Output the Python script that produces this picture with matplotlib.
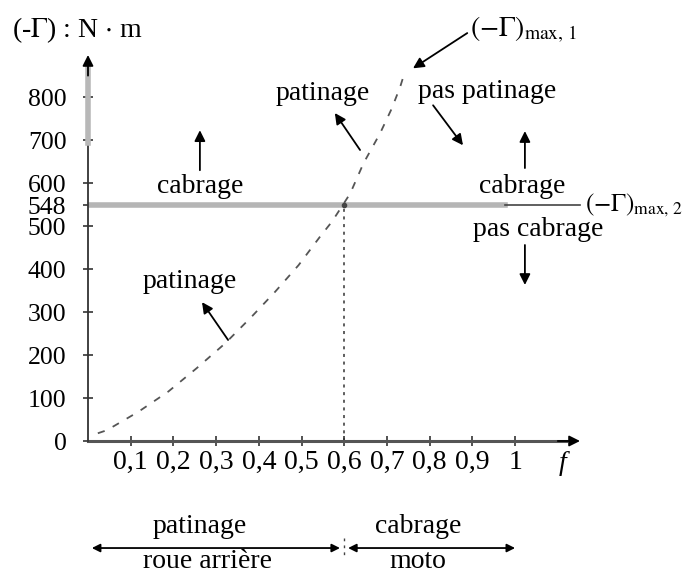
import matplotlib
matplotlib.use("Agg")
import matplotlib.pyplot as plt
import numpy as np

# Courbe (-Gamma)max,1 en fonction de f
f_courbe = [0.023, 0.044, 0.118, 0.188, 0.254, 0.321, 0.383, 0.438, 0.493,
            0.543, 0.571, 0.594, 0.614, 0.645, 0.684, 0.711, 0.731, 0.742]
gamma_courbe = [18, 25, 68, 115, 169, 227, 289, 347, 409,
                475, 510, 545, 576, 646, 716, 773, 824, 859]

# Limite de cabrage et point critique
gamma_max2 = 548
f_crit = 0.6

f_ticks = [0.1, 0.2, 0.3, 0.4, 0.5, 0.6, 0.7, 0.8, 0.9, 1.0]
f_labels = ["0,1", "0,2", "0,3", "0,4", "0,5", "0,6", "0,7", "0,8", "0,9", "1"]
gamma_ticks = [0, 100, 200, 300, 400, 500, 548, 600, 700, 800]
gamma_labels = ["0", "100", "200", "300", "400", "500", "548", "600", "700", "800"]

plt.rcParams["font.family"] = ["Liberation Serif", "DejaVu Serif"]
fs = 20

fig = plt.figure(figsize=(6.93, 5.74), dpi=100)
ax = fig.add_axes([88 / 693, 133 / 574, 492 / 693, 386 / 574])
ax.set_xlim(0, 1.152)
ax.set_ylim(0, 898)
for s in ax.spines.values():
    s.set_visible(False)

ax.set_xticks(f_ticks)
ax.set_xticklabels(f_labels, fontsize=fs)
ax.set_yticks(gamma_ticks)
ax.set_yticklabels(gamma_labels, fontsize=18.5)
ax.tick_params(axis="both", direction="inout", length=7, width=1.2, color="#333333")
ax.tick_params(axis="x", pad=3)
ax.tick_params(axis="y", pad=12)

arr = dict(arrowstyle="-|>", color="black", lw=1.3, mutation_scale=16, shrinkA=0, shrinkB=0)

# axes avec fleches
ax.plot([0, 1.12], [0, 0], color="#555555", lw=2.2, clip_on=False, zorder=3)
ax.annotate("", xy=(1.152, 0), xytext=(1.10, 0), arrowprops=arr, annotation_clip=False)
ax.plot([0, 0], [0, 693], color="#333333", lw=1.3, clip_on=False, zorder=3)
ax.plot([0, 0], [693, 865], color="#b8b8b8", lw=4, clip_on=False, zorder=3)
ax.annotate("", xy=(0, 898), xytext=(0, 850), arrowprops=arr, annotation_clip=False)

# limite de cabrage
ax.plot([0, 0.977], [gamma_max2, gamma_max2], color="#b5b5b5", lw=4, zorder=2)
ax.plot([0.977, 1.152], [gamma_max2, gamma_max2], color="#444444", lw=1.2, clip_on=False)
ax.text(1.164, gamma_max2, r"$(-\Gamma)_{\mathrm{max,\,2}}$", fontsize=18, va="center",
        ha="left", clip_on=False, math_fontfamily="stix")

# courbe de patinage
ax.plot(f_courbe, gamma_courbe, color="#555555", lw=1.3, linestyle=(0, (4, 5)), clip_on=False)
ax.plot([f_crit, f_crit], [0, gamma_max2], color="#333333", lw=1.1, linestyle=(0, (2, 3)))
ax.plot([f_crit], [gamma_max2], marker="o", ms=3, color="#444444")

# textes et fleches
ax.text(-0.178, 956, r"(-$\Gamma$) : N $\cdot$ m", fontsize=fs, ha="left", va="center",
        clip_on=False, math_fontfamily="stix")
ax.text(0.895, 956, r"$(-\Gamma)_{\mathrm{max,\,1}}$", fontsize=fs, ha="left", va="center",
        clip_on=False, math_fontfamily="stix")
ax.annotate("", xy=(0.761, 867), xytext=(0.888, 949), arrowprops=arr, annotation_clip=False)

ax.text(0.262, 591, "cabrage", fontsize=fs, ha="center", va="center")
ax.annotate("", xy=(0.262, 723), xytext=(0.262, 630), arrowprops=arr)

ax.text(0.55, 809, "patinage", fontsize=fs, ha="center", va="center")
ax.annotate("", xy=(0.578, 763), xytext=(0.637, 677), arrowprops=arr)

ax.text(0.934, 812, "pas patinage", fontsize=fs, ha="center", va="center")
ax.annotate("", xy=(0.878, 688), xytext=(0.808, 781), arrowprops=arr)

ax.text(1.016, 591, "cabrage", fontsize=fs, ha="center", va="center")
ax.annotate("", xy=(1.023, 721), xytext=(1.023, 635), arrowprops=arr)

ax.text(1.054, 491, "pas cabrage", fontsize=fs, ha="center", va="center")
ax.annotate("", xy=(1.023, 363), xytext=(1.023, 456), arrowprops=arr)

ax.text(0.239, 372, "patinage", fontsize=fs, ha="center", va="center")
ax.annotate("", xy=(0.267, 323), xytext=(0.328, 235), arrowprops=arr)

ax.text(1.112, -52, "f", fontsize=fs, style="italic", ha="center", va="center", clip_on=False)

# domaines sous l'axe
arr2 = dict(arrowstyle="<|-|>", color="black", lw=1.3, mutation_scale=12, shrinkA=0, shrinkB=0)
ax.annotate("", xy=(0.009, -249), xytext=(0.590, -249), arrowprops=arr2, annotation_clip=False)
ax.annotate("", xy=(0.609, -249), xytext=(1.0, -249), arrowprops=arr2, annotation_clip=False)
ax.plot([f_crit, f_crit], [-225, -272], color="#444444", lw=1, linestyle=(0, (2, 3)), clip_on=False)
ax.text(0.262, -200, "patinage", fontsize=fs, ha="center", va="center", clip_on=False)
ax.text(0.279, -281, "roue arrière", fontsize=fs, ha="center", va="center", clip_on=False)
ax.text(0.773, -200, "cabrage", fontsize=fs, ha="center", va="center", clip_on=False)
ax.text(0.773, -281, "moto", fontsize=fs, ha="center", va="center", clip_on=False)

fig.savefig("out.png", dpi=100)
